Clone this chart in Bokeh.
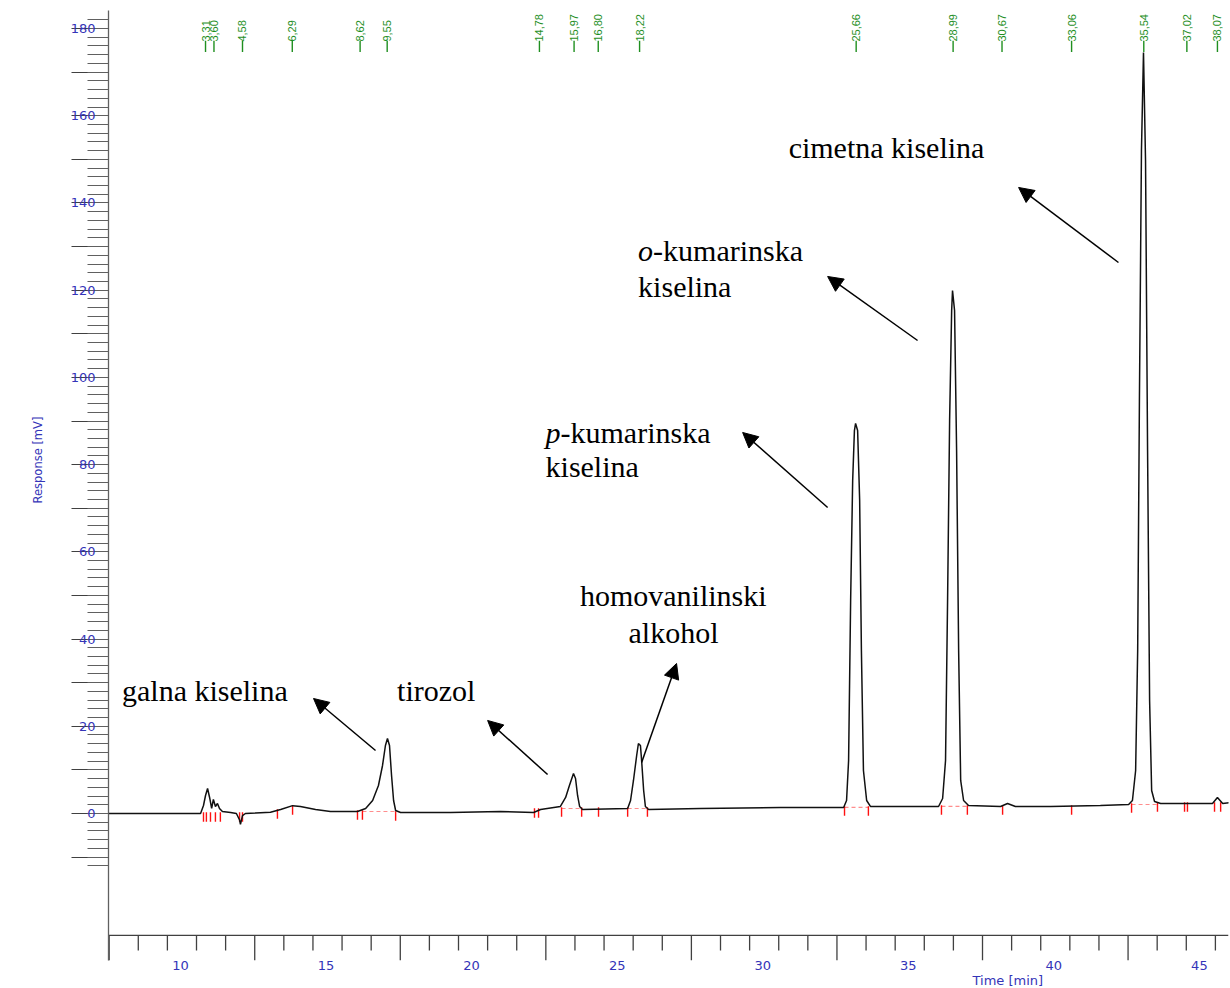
import math
from bokeh.plotting import figure
from bokeh.models import (Range1d, FixedTicker, Label, Arrow,
                          NormalHead, ColumnDataSource, Title)
from bokeh.core.properties import value
from bokeh.embed import file_html
from bokeh.resources import INLINE

# ---------------- data ----------------
# printed time axis runs ahead of the integrator's retention times by this many minutes
RT_OFFSET = 7.55

# chromatogram trace (time on printed axis [min], response [mV])
time_min = [7.53, 10.69, 10.79, 10.86, 10.93, 11.00, 11.07, 11.13, 11.20, 11.27,
            11.34, 11.44, 11.72, 11.92, 12.03, 12.06, 12.13, 12.23, 12.58, 13.09,
            13.44, 13.85, 14.12, 14.64, 15.15, 16.08, 16.36, 16.60, 16.80, 16.94,
            17.04, 17.11, 17.18, 17.25, 17.32, 17.39, 17.56, 19.28, 20.99, 22.13,
            22.37, 23.05, 23.23, 23.36, 23.50, 23.57, 23.64, 23.71, 23.81, 25.36,
            25.46, 25.56, 25.67, 25.73, 25.80, 25.84, 25.91, 25.97, 26.08, 27.86,
            30.61, 32.78, 32.88, 32.95, 33.02, 33.09, 33.15, 33.19, 33.26, 33.33,
            33.39, 33.46, 33.57, 33.70, 34.73, 36.04, 36.18, 36.28, 36.35, 36.42,
            36.49, 36.52, 36.59, 36.66, 36.73, 36.80, 36.90, 37.07, 38.17, 38.41,
            38.68, 39.89, 41.60, 42.57, 42.70, 42.81, 42.88, 42.94, 43.01, 43.08,
            43.15, 43.22, 43.29, 43.36, 43.46, 43.67, 45.04, 45.45, 45.62, 45.80,
            46.07]
response_mv = [0.00, 0.00, 1.83, 4.13, 5.73, 3.67, 1.15, 3.21, 1.61, 2.29,
               1.15, 0.46, 0.23, 0.00, -1.50, -2.50, -0.50, 0.00, 0.10, 0.30,
               0.90, 1.80, 1.60, 0.90, 0.46, 0.46, 1.15, 2.98, 6.42, 11.01,
               15.59, 17.20, 15.59, 8.71, 2.98, 0.69, 0.23, 0.23, 0.46, 0.23,
               0.92, 1.61, 3.67, 6.42, 9.17, 8.03, 4.13, 1.61, 0.92, 1.15,
               2.98, 7.57, 13.30, 16.05, 15.59, 12.15, 5.27, 1.61, 0.92, 1.15,
               1.38, 1.38, 2.98, 12.15, 48.84, 76.36, 87.82, 89.43, 87.82, 71.77,
               37.38, 9.86, 2.98, 1.61, 1.61, 1.61, 3.44, 12.15, 48.84, 90.12,
               115.34, 119.93, 115.34, 83.24, 37.38, 7.57, 2.98, 1.83, 1.61, 2.29,
               1.61, 1.61, 1.83, 2.06, 2.98, 9.86, 37.38, 94.70, 152.03, 174.50,
               149.74, 83.24, 25.91, 5.27, 2.75, 2.29, 2.29, 2.29, 3.67, 2.29,
               2.52]

# retention times printed along the top (integrator, min)
retention_times = [3.31, 3.60, 4.58, 6.29, 8.62, 9.55, 14.78, 15.97, 16.80,
                   18.22, 25.66, 28.99, 30.67, 33.06, 35.54, 37.02, 38.07]
retention_labels = ["3,31", "3,60", "4,58", "6,29", "8,62", "9,55", "14,78",
                    "15,97", "16,80", "18,22", "25,66", "28,99", "30,67",
                    "33,06", "35,54", "37,02", "38,07"]

# integration event marks (printed time axis) and the baseline level there (mV)
red_tick_times = [10.79, 10.89, 11.03, 11.20, 11.37, 12.03, 12.13, 13.33, 13.85,
                  16.08, 16.25, 17.39, 22.16, 22.30, 23.09, 23.78, 24.36, 25.36,
                  26.04, 32.81, 33.63, 36.14, 37.03, 38.24, 40.61, 42.67, 43.56,
                  44.49, 44.59, 45.52, 45.73]
red_tick_base = [0.0, 0.0, 0.0, 0.0, 0.0, 0.0, 0.0, 0.7, 1.6,
                 0.46, 0.46, 0.23, 0.92, 0.92, 1.15, 1.15, 1.15, 1.15,
                 1.15, 1.38, 1.38, 1.61, 1.61, 1.61, 1.61, 2.06, 2.29,
                 2.29, 2.29, 2.29, 2.29]

# integration baselines drawn under the peaks
integ_start = [16.25, 23.09, 25.36, 32.81, 36.14, 42.67]
integ_end = [17.39, 23.78, 26.04, 33.63, 37.03, 43.56]
integ_level = [0.46, 1.15, 1.15, 1.38, 1.61, 2.06]

# axes
X_TICK_LABELS = [10, 15, 20, 25, 30, 35, 40, 45]
Y_TICK_LABELS = [0, 20, 40, 60, 80, 100, 120, 140, 160, 180]
RUN_MINUTES = list(range(0, 39))          # run-time minute marks on the time axis

# ---------------- styling ----------------
BLUE = "#3434b8"
GREEN = "#1f8f1f"
AXIS = "#404040"

X0, X1 = 7.527, 46.0
Y0, Y1 = -33.71, 184.13
X_AXIS_Y = -27.97            # level of the drawn time axis (mV scale)
PX_PER_MV = 4.361

p = figure(width=1230, height=988,
           x_range=Range1d(X0, X1), y_range=Range1d(Y0, Y1),
           output_backend="svg", toolbar_location=None,
           min_border_left=108, min_border_right=2,
           min_border_top=10, min_border_bottom=28)
p.grid.visible = False
p.outline_line_color = None
p.background_fill_color = "white"

# --- time axis: line and minute marks (long every 5 run-minutes) ---
p.segment(x0=[X0], y0=[X_AXIS_Y], x1=[X1], y1=[X_AXIS_Y],
          line_color=AXIS, line_width=1.3)
tick_x = [RT_OFFSET + m for m in RUN_MINUTES]
tick_len = [(25 if m % 5 == 0 else 15) / PX_PER_MV for m in RUN_MINUTES]
p.segment(x0=tick_x, y0=[X_AXIS_Y] * len(tick_x), x1=tick_x,
          y1=[X_AXIS_Y - L for L in tick_len], line_color=AXIS, line_width=1.3)

# --- printed time labels (library axis, labels only) ---
xa = p.xaxis[0]
xa.ticker = FixedTicker(ticks=X_TICK_LABELS, minor_ticks=[])
xa.major_tick_out = 0
xa.major_tick_in = 0
xa.minor_tick_out = 0
xa.minor_tick_in = 0
xa.axis_line_color = None
xa.major_tick_line_color = None
xa.minor_tick_line_color = None
xa.major_label_standoff = 0
xa.major_label_text_font = "DejaVu Sans"
xa.major_label_text_font_size = "13px"
xa.major_label_text_color = BLUE

p.add_layout(Title(text="Time [min]", align="left", offset=864, standoff=-3,
                   text_font="DejaVu Sans", text_font_size="13px",
                   text_font_style="normal", text_color=BLUE), "below")

# --- y axis ---
ya = p.yaxis[0]
y_major = list(range(-10, 181, 10))
ya.ticker = FixedTicker(ticks=y_major, minor_ticks=list(range(-12, 183, 2)))
ya.major_label_overrides = {t: ("" if t not in Y_TICK_LABELS else str(t)) for t in y_major}
ya.major_tick_out = 37
ya.major_tick_in = 0
ya.minor_tick_out = 21
ya.minor_tick_in = 0
ya.major_label_standoff = -24
ya.major_label_text_font = "DejaVu Sans"
ya.major_label_text_font_size = "13px"
ya.major_label_text_color = BLUE
ya.axis_line_color = "#606060"
ya.axis_line_width = 1.3
ya.major_tick_line_color = AXIS
ya.minor_tick_line_color = "#606060"
ya.major_tick_line_width = 1.2
ya.minor_tick_line_width = 1.2

p.add_layout(Title(text="Response [mV]", align="left", offset=457, standoff=42,
                   vertical_align="top",
                   text_font="DejaVu Sans", text_font_size="11.5px",
                   text_font_style="normal", text_color=BLUE), "left")

# --- integration marks ---
p.segment(x0=integ_start, y0=integ_level, x1=integ_end, y1=integ_level,
          line_color="#ff7070", line_width=1.2, line_dash="4 3", line_alpha=0.8)
p.segment(x0=red_tick_times, y0=[b + 0.3 for b in red_tick_base],
          x1=red_tick_times, y1=[b - 1.9 for b in red_tick_base],
          line_color="#ff1010", line_width=1.4)

# --- trace ---
p.line(time_min, response_mv, line_color="#111111", line_width=1.5)

# --- retention time labels along the top ---
rt_x = [t + RT_OFFSET for t in retention_times]
src = ColumnDataSource(dict(x=rt_x, lab=retention_labels))
p.segment(x0="x", y0=174.6, x1="x", y1=177.2, source=src,
          line_color=GREEN, line_width=1.4)
p.text(x="x", y=177.0, text="lab", source=src, angle=math.pi / 2,
       text_align="left", text_baseline="middle",
       text_font=value("Liberation Sans"), text_font_size="11px",
       text_color=GREEN)

# --- compound annotations ---
SERIF = "Liberation Serif"
FS = "30px"


def add_text(x, y, txt, style="normal", x_offset=0):
    p.add_layout(Label(x=x, y=y, text=txt, x_offset=x_offset,
                       text_font=SERIF, text_font_size=FS, text_font_style=style,
                       text_color="black", text_align="left",
                       text_baseline="alphabetic"))


add_text(7.99, 28.20, "galna kiselina")
add_text(17.44, 28.20, "tirozol")
add_text(23.72, 49.99, "homovanilinski")
add_text(25.39, 41.50, "alkohol")
add_text(22.54, 87.36, "p", style="italic")
add_text(22.54, 87.36, "-kumarinska", x_offset=15)
add_text(22.54, 79.57, "kiselina")
add_text(25.72, 129.10, "o", style="italic")
add_text(25.72, 129.10, "-kumarinska", x_offset=15)
add_text(25.72, 120.84, "kiselina")
add_text(30.89, 152.71, "cimetna kiselina")

arrows = [
    (16.70, 14.45, 14.57, 26.37),
    (22.61, 8.94, 20.55, 21.33),
    (25.84, 11.69, 27.04, 34.40),
    (32.23, 70.17, 29.31, 87.37),
    (35.32, 108.46, 32.23, 123.14),
    (42.22, 126.35, 38.79, 143.55),
]
for xs, ys, xe, ye in arrows:
    p.add_layout(Arrow(x_start=xs, y_start=ys, x_end=xe, y_end=ye,
                       line_color="black", line_width=1.5,
                       end=NormalHead(size=15, fill_color="black",
                                      line_color="black", line_width=1)))

open("out.html", "w").write(file_html(p, INLINE))
